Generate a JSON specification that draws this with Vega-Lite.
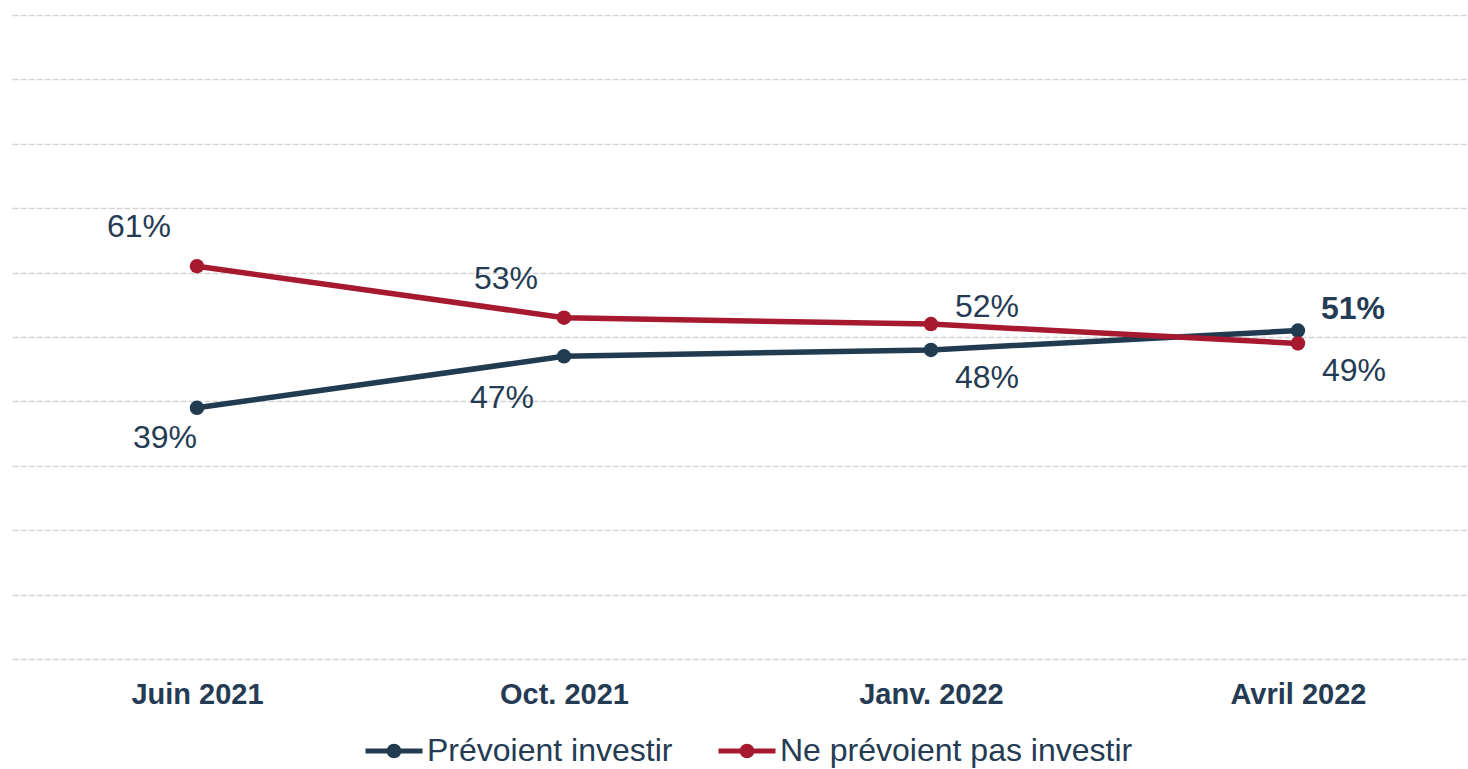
{
  "$schema": "https://vega.github.io/schema/vega-lite/v6.json",
  "width": 1456,
  "height": 644,
  "autosize": {"type": "none"},
  "padding": {"left": 12, "top": 15, "right": 0, "bottom": 110},
  "background": "white",
  "config": {
    "view": {"stroke": null},
    "font": "Liberation Sans",
    "text": {"font": "Liberation Sans"}
  },
  "data": {
    "values": [
      {"date": "Juin 2021", "serie": "Prévoient investir", "value": 0.39},
      {"date": "Oct. 2021", "serie": "Prévoient investir", "value": 0.47},
      {"date": "Janv. 2022", "serie": "Prévoient investir", "value": 0.48},
      {"date": "Avril 2022", "serie": "Prévoient investir", "value": 0.51},
      {"date": "Juin 2021", "serie": "Ne prévoient pas investir", "value": 0.61},
      {"date": "Oct. 2021", "serie": "Ne prévoient pas investir", "value": 0.53},
      {"date": "Janv. 2022", "serie": "Ne prévoient pas investir", "value": 0.52},
      {"date": "Avril 2022", "serie": "Ne prévoient pas investir", "value": 0.49}
    ]
  },
  "encoding": {
    "x": {
      "field": "date", "type": "ordinal",
      "sort": ["Juin 2021", "Oct. 2021", "Janv. 2022", "Avril 2022"],
      "scale": {"type": "point", "padding": 0.4837, "align": 0.521},
      "axis": {
        "title": null, "domain": false, "ticks": false, "grid": false,
        "labelFont": "Liberation Sans", "labelFontSize": 29, "labelFontWeight": "bold",
        "labelColor": "#243B53", "labelPadding": 21, "labelAngle": 0
      }
    },
    "y": {
      "field": "value", "type": "quantitative",
      "scale": {"domain": [0, 1], "nice": false, "zero": true},
      "axis": {
        "title": null, "labels": false, "ticks": false, "domain": false,
        "values": [0, 0.1, 0.2, 0.3, 0.4, 0.5, 0.6, 0.7, 0.8, 0.9, 1],
        "grid": true, "gridColor": "#D4D4D4", "gridDash": [6, 2], "gridWidth": 1.3
      }
    }
  },
  "layer": [
    {
      "mark": {"type": "line", "strokeWidth": 5.5},
      "encoding": {
        "color": {
          "field": "serie", "type": "nominal",
          "scale": {"domain": ["Prévoient investir", "Ne prévoient pas investir"], "range": ["#213B50", "#A6192E"]}
        }
      }
    },
    {
      "mark": {"type": "point", "filled": true, "size": 210, "opacity": 1},
      "encoding": {
        "color": {
          "field": "serie", "type": "nominal",
          "scale": {"domain": ["Prévoient investir", "Ne prévoient pas investir"], "range": ["#213B50", "#A6192E"]},
          "legend": {
            "title": null,
            "orient": "none",
            "direction": "horizontal",
            "legendX": 351,
            "legendY": 705,
            "symbolType": "M-1,0L1,0M-0.17,0A0.17,0.17,0,1,1,0.17,0A0.17,0.17,0,1,1,-0.17,0Z",
            "symbolSize": 3249,
            "symbolStrokeWidth": 5,
            "labelFont": "Liberation Sans",
            "labelFontSize": 32,
            "labelColor": "#243B53",
            "labelOffset": 2,
            "columnPadding": 35,
            "labelLimit": 600,
            "encode": {
              "symbols": {
                "update": {
                  "stroke": {"scale": "color", "field": "value"},
                  "fill": {"scale": "color", "field": "value"},
                  "opacity": {"value": 1}
                }
              }
            }
          }
        }
      }
    },
    {
      "transform": [{"filter": "datum.serie == 'Ne prévoient pas investir' && (datum.date == 'Juin 2021' || datum.date == 'Oct. 2021')"}],
      "mark": {"type": "text", "fontSize": 32, "color": "#243B53", "dx": -58, "dy": -39, "baseline": "middle", "align": "center"},
      "encoding": {"text": {"field": "value", "type": "quantitative", "format": ".0%"}}
    },
    {
      "transform": [{"filter": "datum.serie == 'Prévoient investir' && datum.date == 'Juin 2021'"}],
      "mark": {"type": "text", "fontSize": 32, "color": "#243B53", "dx": -32, "dy": 30, "baseline": "middle", "align": "center"},
      "encoding": {"text": {"field": "value", "type": "quantitative", "format": ".0%"}}
    },
    {
      "transform": [{"filter": "datum.serie == 'Prévoient investir' && datum.date == 'Oct. 2021'"}],
      "mark": {"type": "text", "fontSize": 32, "color": "#243B53", "dx": -62, "dy": 42, "baseline": "middle", "align": "center"},
      "encoding": {"text": {"field": "value", "type": "quantitative", "format": ".0%"}}
    },
    {
      "transform": [{"filter": "(datum.serie == 'Prévoient investir' && datum.date == 'Janv. 2022') || (datum.serie == 'Ne prévoient pas investir' && datum.date == 'Avril 2022')"}],
      "mark": {"type": "text", "fontSize": 32, "color": "#243B53", "dx": 56, "dy": 28, "baseline": "middle", "align": "center"},
      "encoding": {"text": {"field": "value", "type": "quantitative", "format": ".0%"}}
    },
    {
      "transform": [{"filter": "datum.serie == 'Ne prévoient pas investir' && datum.date == 'Janv. 2022'"}],
      "mark": {"type": "text", "fontSize": 32, "color": "#243B53", "dx": 56, "dy": -17, "baseline": "middle", "align": "center"},
      "encoding": {"text": {"field": "value", "type": "quantitative", "format": ".0%"}}
    },
    {
      "transform": [{"filter": "datum.serie == 'Prévoient investir' && datum.date == 'Avril 2022'"}],
      "mark": {"type": "text", "fontSize": 32, "fontWeight": "bold", "color": "#243B53", "dx": 55, "dy": -22, "baseline": "middle", "align": "center"},
      "encoding": {"text": {"field": "value", "type": "quantitative", "format": ".0%"}}
    }
  ]
}
